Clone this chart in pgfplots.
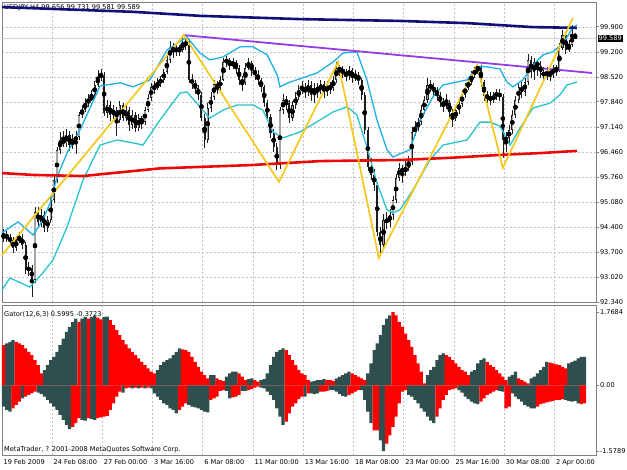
\documentclass[border=0pt]{standalone}
\usepackage{pgfplots}
\pgfplotsset{compat=1.18}
\usepackage{pgfplotstable}
\usepackage{fontspec}
\setmainfont{DejaVu Sans}
\newcommand\mt{\fontsize{6.6}{8}\selectfont}
\definecolor{mtnavy}{RGB}{16,16,120}
\definecolor{mtred}{RGB}{235,10,10}
\definecolor{mtpurple}{RGB}{150,60,230}
\definecolor{mtyellow}{RGB}{245,200,30}
\definecolor{mtblue}{RGB}{30,175,230}
\definecolor{mtteal}{RGB}{40,195,205}
\definecolor{gdark}{RGB}{47,79,79}
\definecolor{gred}{RGB}{255,0,0}
\definecolor{mtgrid}{RGB}{195,195,195}
\definecolor{mtaxis}{RGB}{128,128,128}
\definecolor{bull}{RGB}{165,165,165}
\definecolor{candle}{RGB}{30,30,30}

\pgfplotstableread{
i o h l c
0 94.10 94.35 94.00 94.18
1 94.18 94.30 94.00 94.10
2 94.10 94.20 93.90 94.04
3 94.04 94.12 93.70 93.82
4 93.82 94.15 93.75 94.04
5 94.04 94.25 93.95 94.10
6 94.10 94.20 93.80 93.91
7 93.91 94.00 93.10 93.22
8 93.22 93.45 93.05 93.27
9 93.27 93.35 92.48 92.95
10 92.95 94.95 92.85 94.81
11 94.81 94.95 94.40 94.54
12 94.54 94.90 94.40 94.73
13 94.73 94.85 94.25 94.37
14 94.37 94.70 94.25 94.59
15 94.59 95.25 94.50 95.14
16 95.14 95.80 95.05 95.69
17 95.69 96.60 95.60 96.52
18 96.52 97.00 96.40 96.79
19 96.79 97.05 96.60 96.70
20 96.70 97.10 96.60 96.93
21 96.93 97.05 96.50 96.65
22 96.65 96.95 96.55 96.79
23 96.79 97.05 96.40 96.87
24 96.87 97.55 96.80 97.48
25 97.48 97.75 97.40 97.61
26 97.61 97.95 97.55 97.81
27 97.81 98.05 97.70 97.89
28 97.89 98.15 97.85 98.03
29 98.03 98.40 97.95 98.30
30 98.30 98.70 98.25 98.52
31 98.52 98.75 98.40 98.58
32 98.58 98.65 97.45 97.53
33 97.53 97.90 97.40 97.75
34 97.75 97.85 97.30 97.48
35 97.48 97.75 97.35 97.61
36 97.61 97.70 96.90 97.34
37 97.34 97.85 97.25 97.75
38 97.75 97.80 97.30 97.39
39 97.39 97.75 97.30 97.61
40 97.61 97.70 97.05 97.20
41 97.20 97.60 97.10 97.48
42 97.48 97.55 97.00 97.12
43 97.12 97.50 97.05 97.39
44 97.39 97.45 97.10 97.28
45 97.28 97.70 97.20 97.61
46 97.61 98.05 97.55 97.94
47 97.94 98.35 97.85 98.25
48 98.25 98.40 98.05 98.22
49 98.22 98.50 98.15 98.38
50 98.38 98.55 98.25 98.44
51 98.44 98.75 98.35 98.66
52 98.66 99.10 98.60 98.99
53 98.99 99.50 98.90 99.35
54 99.35 99.45 99.05 99.21
55 99.21 99.45 99.10 99.32
56 99.32 99.40 99.10 99.26
57 99.26 99.62 99.20 99.48
58 99.48 99.60 99.25 99.40
59 99.40 99.50 98.35 98.44
60 98.44 98.60 98.20 98.36
61 98.36 98.45 98.05 98.22
62 98.22 98.30 97.90 98.03
63 98.03 98.10 97.30 97.39
64 97.39 97.50 96.57 96.79
65 96.79 97.80 96.70 97.67
66 97.67 98.10 97.55 97.97
67 97.97 98.45 97.90 98.33
68 98.33 98.40 98.05 98.22
69 98.22 98.55 98.10 98.44
70 98.44 99.05 98.40 98.93
71 98.93 99.10 98.80 98.99
72 98.99 99.05 98.70 98.82
73 98.82 99.05 98.75 98.93
74 98.93 98.98 98.60 98.77
75 98.77 98.85 98.30 98.44
76 98.44 98.55 98.15 98.36
77 98.36 98.90 98.30 98.77
78 98.77 99.05 98.70 98.91
79 98.91 98.95 98.55 98.71
80 98.71 98.80 98.45 98.60
81 98.60 98.70 98.30 98.44
82 98.44 98.50 98.10 98.25
83 98.25 98.30 97.70 97.81
84 97.81 97.90 97.30 97.42
85 97.42 97.50 96.85 96.98
86 96.98 97.10 96.45 96.60
87 96.60 96.70 95.97 96.10
88 96.10 97.70 96.00 97.61
89 97.61 98.05 97.50 97.89
90 97.89 98.00 97.60 97.81
91 97.81 97.90 97.25 97.39
92 97.39 97.85 97.30 97.75
93 97.75 98.10 97.65 97.97
94 97.97 98.30 97.90 98.16
95 98.16 98.40 98.05 98.25
96 98.25 98.35 97.95 98.11
97 98.11 98.45 98.00 98.30
98 98.30 98.40 97.85 98.03
99 98.03 98.35 97.80 98.22
100 98.22 98.35 97.95 98.16
101 98.16 98.45 98.05 98.33
102 98.33 98.40 97.95 98.11
103 98.11 98.40 98.00 98.27
104 98.27 98.38 98.05 98.22
105 98.22 98.55 98.15 98.44
106 98.44 98.93 98.35 98.77
107 98.77 98.85 98.55 98.71
108 98.71 98.82 98.50 98.66
109 98.66 98.75 98.40 98.55
110 98.55 98.82 98.45 98.71
111 98.71 98.78 98.35 98.49
112 98.49 98.72 98.40 98.58
113 98.58 98.65 98.30 98.44
114 98.44 98.50 97.90 98.03
115 98.03 98.10 96.95 97.06
116 97.06 97.15 95.95 96.05
117 96.05 96.30 95.70 95.83
118 95.83 96.00 95.40 95.55
119 95.55 95.65 94.15 94.26
120 94.26 94.40 93.70 93.91
121 93.91 94.75 93.80 94.59
122 94.59 94.80 94.35 94.54
123 94.54 94.90 94.40 94.73
124 94.73 95.25 94.60 95.14
125 95.14 95.85 95.05 95.75
126 95.75 96.15 95.65 96.02
127 96.02 96.10 95.60 95.91
128 95.91 96.20 95.80 96.02
129 96.02 96.35 95.95 96.19
130 96.19 97.15 96.10 97.01
131 97.01 97.30 96.90 97.12
132 97.12 97.40 97.05 97.28
133 97.28 97.75 97.20 97.61
134 97.61 98.00 97.50 97.89
135 97.89 98.50 97.80 98.30
136 98.30 98.45 98.10 98.22
137 98.22 98.35 98.00 98.16
138 98.16 98.25 97.85 98.03
139 98.03 98.10 97.70 97.83
140 97.83 97.95 97.55 97.75
141 97.75 98.05 97.65 97.81
142 97.81 97.90 97.40 97.56
143 97.56 97.65 97.15 97.39
144 97.39 97.70 97.30 97.61
145 97.61 97.90 97.50 97.78
146 97.78 98.15 97.70 98.03
147 98.03 98.35 97.95 98.22
148 98.22 98.50 98.15 98.38
149 98.38 98.68 98.30 98.58
150 98.58 98.80 98.50 98.71
151 98.71 98.85 98.60 98.82
152 98.82 98.85 98.25 98.38
153 98.38 98.45 97.85 98.00
154 98.00 98.15 97.80 97.97
155 97.97 98.10 97.75 97.89
156 97.89 98.12 97.80 98.00
157 98.00 98.20 97.90 98.08
158 98.08 98.20 97.85 97.97
159 97.97 98.05 96.30 96.79
160 96.79 97.00 96.45 96.85
161 96.85 97.20 96.70 97.06
162 97.06 97.60 96.95 97.48
163 97.48 98.00 97.40 97.89
164 97.89 98.35 97.80 98.25
165 98.25 98.40 97.95 98.11
166 98.11 98.50 98.00 98.38
167 98.38 99.15 98.30 98.99
168 98.99 99.10 98.50 98.66
169 98.66 99.05 98.45 98.93
170 98.93 99.00 98.55 98.82
171 98.82 98.95 98.50 98.66
172 98.66 98.80 98.40 98.55
173 98.55 98.80 98.45 98.66
174 98.66 98.75 98.40 98.58
175 98.58 98.85 98.50 98.77
176 98.77 98.85 98.55 98.71
177 98.71 99.45 98.65 99.32
178 99.32 99.80 99.25 99.67
179 99.67 99.75 99.15 99.26
180 99.26 99.55 99.20 99.40
181 99.40 99.95 99.35 99.66
182 99.656 99.731 99.581 99.589
}\candles

\pgfplotstableread{
i ud ur ld lr
0 0 0.97 -0.51 0
1 1.01 0 -0.59 0
2 1.05 0 -0.63 0
3 1.09 0 0 -0.55
4 0 1.05 0 -0.47
5 0 1.01 0 -0.39
6 0 0.97 -0.31 0
7 0 0.89 0 -0.27
8 0 0.81 0 -0.23
9 0 0.73 0 -0.19
10 0 0.61 0 -0.15
11 0 0.49 -0.17 0
12 0 0.29 -0.21 0
13 0.37 0 -0.27 0
14 0.49 0 -0.35 0
15 0.61 0 -0.43 0
16 0.69 0 -0.51 0
17 0.81 0 -0.59 0
18 0.97 0 -0.71 0
19 1.13 0 -0.83 0
20 1.29 0 -0.95 0
21 1.41 0 -1.05 0
22 1.53 0 0 -1.00
23 1.61 0 0 -0.91
24 0 1.53 0 -0.79
25 1.61 0 -0.83 0
26 1.65 0 -0.85 0
27 0 1.61 0 -0.79
28 1.65 0 -0.81 0
29 1.67 0 -0.83 0
30 0 1.63 0 -0.79
31 0 1.59 0 -0.77
32 1.65 0 0 -0.75
33 1.66 0 0 -0.73
34 0 1.57 0 -0.59
35 0 1.45 0 -0.43
36 0 1.33 0 -0.27
37 0 1.21 0 -0.15
38 0 1.09 -0.17 0
39 0 0.99 0 -0.07
40 0 0.89 0 -0.05
41 0 0.81 -0.07 0
42 0 0.73 0 -0.05
43 0 0.65 -0.07 0
44 0 0.57 0 -0.05
45 0 0.49 -0.07 0
46 0 0.41 0 -0.05
47 0 0.33 -0.07 0
48 0 0.29 -0.19 0
49 0.37 0 -0.27 0
50 0.49 0 -0.35 0
51 0.57 0 -0.43 0
52 0.61 0 -0.47 0
53 0.65 0 -0.55 0
54 0.73 0 -0.59 0
55 0.81 0 -0.67 0
56 0.89 0 0 -0.59
57 0 0.87 0 -0.51
58 0 0.85 0 -0.43
59 0 0.81 -0.47 0
60 0 0.69 -0.51 0
61 0 0.57 -0.53 0
62 0 0.45 -0.55 0
63 0 0.33 -0.59 0
64 0 0.25 -0.63 0
65 0 0.17 -0.65 0
66 0.25 0 0 -0.35
67 0.25 0 0 -0.31
68 0 0.17 0 -0.27
69 0 0.13 0 -0.13
70 0 0.11 0 -0.11
71 0.21 0 -0.13 0
72 0.29 0 -0.31 0
73 0.33 0 0 -0.29
74 0.33 0 0 -0.27
75 0 0.29 0 -0.23
76 0 0.21 -0.13 0
77 0 0.13 -0.13 0
78 0.15 0 0 -0.11
79 0.17 0 0 -0.09
80 0 0.13 0 -0.05
81 0 0.09 0 -0.03
82 0.13 0 -0.05 0
83 0.15 0 -0.07 0
84 0.29 0 -0.15 0
85 0.49 0 -0.23 0
86 0.69 0 -0.35 0
87 0.81 0 -0.55 0
88 0.85 0 -0.75 0
89 0.89 0 -0.95 0
90 0 0.85 0 -0.87
91 0 0.73 0 -0.67
92 0 0.61 0 -0.51
93 0 0.49 0 -0.43
94 0 0.37 0 -0.33
95 0 0.29 0 -0.27
96 0 0.25 -0.27 0
97 0 0.13 0 -0.19
98 0.09 0 -0.19 0
99 0.11 0 -0.21 0
100 0.13 0 -0.19 0
101 0.13 0 0 -0.15
102 0.15 0 0 -0.15
103 0 0.13 0 -0.13
104 0 0.13 -0.11 0
105 0 0.11 -0.11 0
106 0.17 0 -0.15 0
107 0.21 0 -0.21 0
108 0.25 0 -0.25 0
109 0.29 0 -0.27 0
110 0.33 0 0 -0.23
111 0 0.29 0 -0.19
112 0 0.25 0 -0.15
113 0 0.21 0 -0.11
114 0 0.17 -0.11 0
115 0 0.13 -0.35 0
116 0.29 0 -0.63 0
117 0.53 0 -0.91 0
118 0.85 0 0 -1.08
119 1.01 0 0 -1.08
120 1.21 0 -1.32 0
121 1.45 0 -1.5789 0
122 1.61 0 0 -1.40
123 1.69 0 0 -1.20
124 0 1.7684 0 -1.00
125 0 1.69 0 -0.75
126 0 1.53 0 -0.43
127 0 1.41 0 -0.15
128 0 1.25 0 -0.11
129 0 1.09 -0.23 0
130 0 0.93 -0.27 0
131 0 0.73 -0.35 0
132 0 0.53 -0.43 0
133 0 0.33 -0.55 0
134 0 0.05 -0.63 0
135 0.25 0 -0.75 0
136 0.37 0 -0.85 0
137 0.45 0 -0.91 0
138 0.61 0 0 -0.75
139 0.73 0 0 -0.55
140 0.77 0 0 -0.35
141 0 0.73 0 -0.23
142 0 0.69 0 -0.11
143 0 0.61 0 -0.09
144 0 0.53 0 -0.07
145 0 0.45 -0.11 0
146 0 0.37 -0.17 0
147 0 0.33 -0.27 0
148 0 0.25 -0.33 0
149 0.33 0 -0.39 0
150 0.37 0 -0.43 0
151 0.53 0 -0.45 0
152 0.61 0 0 -0.39
153 0.65 0 0 -0.31
154 0 0.57 0 -0.23
155 0 0.49 0 -0.19
156 0 0.45 0 -0.15
157 0 0.37 0 -0.11
158 0 0.29 -0.13 0
159 0 0.21 -0.15 0
160 0 0.13 0 -0.55
161 0.21 0 0 -0.51
162 0.25 0 -0.19 0
163 0.33 0 -0.27 0
164 0 0.17 -0.33 0
165 0 0.13 -0.39 0
166 0 0.09 -0.47 0
167 0 0.05 -0.51 0
168 0.17 0 -0.55 0
169 0.21 0 -0.55 0
170 0.29 0 0 -0.51
171 0.37 0 0 -0.45
172 0.45 0 0 -0.43
173 0.57 0 0 -0.41
174 0 0.55 0 -0.39
175 0 0.53 0 -0.37
176 0 0.51 0 -0.35
177 0 0.49 0 -0.35
178 0 0.45 0 -0.33
179 0 0.41 -0.35 0
180 0.53 0 -0.37 0
181 0.57 0 -0.39 0
182 0.60 0 -0.37 0
183 0.65 0 -0.43 0
184 0.69 0 0 -0.45
185 0.69 0 0 -0.43
}\gator

\begin{document}
\begin{tikzpicture}
\useasboundingbox (0pt,0pt) rectangle (627pt,-470pt);
\node[anchor=west,font=\mt,inner sep=0pt] at (4pt,-8pt) {USDJPY,H4 99.656 99.731 99.581 99.589};
\begin{axis}[
  at={(2pt,-2pt)}, anchor=north west, scale only axis,
  width=594pt, height=300pt,
  xmin=-0.51, xmax=188.66, ymin=92.34, ymax=100.58,
  axis line style={draw=mtaxis, line width=0.9pt},
  xtick={-0.51,15.41,31.41,47.41,63.41,79.41,95.41,111.41,127.41,143.41,159.41,175.41},
  xticklabels={}, xtick style={draw=none},
  ytick={92.34,93.02,93.70,94.40,95.08,95.76,96.46,97.14,97.84,98.52,99.20,99.90},
  yticklabels={92.340,93.020,93.700,94.400,95.080,95.760,96.460,97.140,97.840,98.520,99.200,99.900},
  ytick pos=right, yticklabel pos=right, tick align=outside, major tick length=3pt,
  ytick style={draw=mtaxis, line width=0.6pt},
  yticklabel style={font=\mt, xshift=-2.5pt},
  xmajorgrids, ymajorgrids,
  grid style={draw=mtgrid, dash pattern=on 2pt off 2pt, line width=0.5pt},
  clip=false,
]
\addplot[draw=gray!35, line width=0.8pt, forget plot] coordinates {(-0.51,99.589) (188.66,99.589)};
% wicks
\addplot[only marks, mark=none, forget plot, error bars/.cd, y dir=both, y explicit, error mark=none,
  error bar style={draw=candle, line width=0.6pt}]
  table[x=i, y expr={(\thisrow{h}+\thisrow{l})/2}, y error expr={(\thisrow{h}-\thisrow{l})/2}] {\candles};
% bodies
\addplot[only marks, mark=none, forget plot, error bars/.cd, y dir=both, y explicit, error mark=none,
  error bar style={draw=candle, line width=2.1pt}]
  table[x=i, y expr={(\thisrow{o}+\thisrow{c})/2}, y error expr={max(abs(\thisrow{c}-\thisrow{o})/2,0.012)}] {\candles};
\addplot[only marks, mark=none, forget plot, error bars/.cd, y dir=both, y explicit, error mark=none,
  error bar style={draw=bull, line width=1.2pt}]
  table[x=i, y expr={(\thisrow{o}+\thisrow{c})/2}, y error expr={max((\thisrow{c}-\thisrow{o})/2-0.02,0)}] {\candles};
% upper band
\addplot[mtblue, line width=1.3pt] coordinates {
(-0.5,94.24) (4.6,94.54) (9.4,94.18) (12.5,94.59) (14.8,95.06) (17.0,95.77) (20.2,96.43) (24.3,97.06)
(30.7,98.27) (37.1,98.36) (41.2,98.25) (46.6,98.44) (52.0,99.26) (58.4,99.62) (62.5,99.18) (65.7,98.99)
(69.9,99.07) (75.3,99.35) (79.4,99.35) (83.9,99.13) (87.1,98.58) (88.0,98.25) (91.2,98.38) (94.4,98.47)
(99.8,98.63) (104.9,98.93) (108.1,99.18) (112.5,99.21) (115.7,98.44) (118.9,97.34) (122.1,96.52) (124.0,96.32)
(126.2,96.41) (129.4,96.52) (132.6,97.34) (136.7,97.97) (139.9,98.30) (147.6,98.44) (150.8,98.80) (154.0,98.80)
(158.1,98.74) (160.3,98.38) (162.2,98.25) (165.4,98.44) (168.6,98.85) (171.8,99.13) (174.9,99.21) (178.2,99.45)
(181.3,99.87) (182.6,99.95)};
% lower band
\addplot[mtteal, line width=1.3pt] coordinates {
(-0.5,92.67) (2.0,93.00) (8.4,92.75) (12.5,93.14) (15.7,93.49) (20.2,94.40) (25.3,95.69) (30.7,96.65)
(36.1,96.79) (41.2,96.71) (44.4,96.65) (49.8,97.34) (56.2,98.08) (58.4,98.11) (62.5,97.70) (65.7,97.39)
(69.9,97.61) (74.3,97.75) (79.4,97.75) (82.6,97.61) (85.8,97.01) (89.0,96.85) (94.4,97.01) (100.8,97.34)
(104.9,97.56) (109.4,97.70) (112.5,97.48) (115.7,96.60) (118.9,95.61) (122.1,94.87) (124.0,94.79) (126.2,94.87)
(130.4,95.42) (135.8,96.24) (139.9,96.65) (147.6,96.79) (151.7,97.28) (154.9,97.28) (158.1,97.17) (161.3,96.65)
(164.5,97.12) (168.6,97.67) (174.0,97.80) (177.2,98.03) (179.4,98.30) (182.6,98.38)};
% red MA
\addplot[mtred, line width=2.6pt] coordinates {
(-0.5,95.88) (9.4,95.83) (25.3,95.80) (49.8,96.01) (62.5,96.05) (78.5,96.10) (100.8,96.21) (126.2,96.24)
(142.2,96.30) (158.1,96.38) (170.8,96.43) (182.6,96.49)};
% navy MA
\addplot[mtnavy, line width=2.6pt] coordinates {
(-0.5,100.44) (41.2,100.31) (62.5,100.20) (94.4,100.11) (126.2,100.06) (147.6,100.00) (168.6,99.89) (182.6,99.87)};
% purple trend line
\addplot[mtpurple, line width=1.8pt] coordinates {(57.4,99.67) (187.4,98.63)};
% zigzag
\addplot[mtyellow, line width=1.7pt] coordinates {
(-0.5,93.63) (57.4,99.67) (87.7,95.64) (106.5,98.93) (119.5,93.55) (150.8,98.85) (159.0,96.02) (181.3,100.14)};
\node[anchor=west, fill=black, text=white, font=\mt, inner sep=1pt, xshift=1.5pt] at (axis cs:188.66,99.589) {99.589};
\end{axis}

\begin{axis}[
  at={(2pt,-305pt)}, anchor=north west, scale only axis,
  width=594pt, height=150pt,
  xmin=-0.51, xmax=188.66, ymin=-1.675, ymax=1.937,
  axis line style={draw=mtaxis, line width=0.9pt},
  xtick={-0.51,15.41,31.41,47.41,63.41,79.41,95.41,111.41,127.41,143.41,159.41,175.41},
  xticklabels={19 Feb 2009,24 Feb 08:00,27 Feb 00:00,3 Mar 16:00,6 Mar 08:00,11 Mar 00:00,13 Mar 16:00,18 Mar 08:00,23 Mar 00:00,25 Mar 16:00,30 Mar 08:00,2 Apr 00:00},
  xtick style={draw=none},
  xticklabel style={font=\mt, anchor=north west, inner sep=0pt, xshift=1.5pt, yshift=-1pt},
  ytick={-1.5789,0,1.7684},
  yticklabels={-1.5789,0.00,1.7684},
  ytick pos=right, yticklabel pos=right, tick align=outside, major tick length=3pt,
  ytick style={draw=mtaxis, line width=0.6pt},
  yticklabel style={font=\mt, xshift=-2.5pt},
  xmajorgrids,
  grid style={draw=mtgrid, dash pattern=on 2pt off 2pt, line width=0.5pt},
]
\addplot[ybar, bar width=3.25pt, bar shift=0pt, fill=gdark, draw=none] table[x=i, y=ud] {\gator};
\addplot[ybar, bar width=3.25pt, bar shift=0pt, fill=gred, draw=none] table[x=i, y=ur] {\gator};
\addplot[ybar, bar width=3.25pt, bar shift=0pt, fill=gdark, draw=none] table[x=i, y=ld] {\gator};
\addplot[ybar, bar width=3.25pt, bar shift=0pt, fill=gred, draw=none] table[x=i, y=lr] {\gator};
\end{axis}
\node[anchor=west,font=\mt,inner sep=0pt] at (4pt,-314pt) {Gator(12,6,3) 0.5995 -0.3723};
\node[anchor=west,font=\mt,inner sep=0pt] at (4pt,-450pt) {MetaTrader, ? 2001-2008 MetaQuotes Software Corp.};
\end{tikzpicture}
\end{document}
